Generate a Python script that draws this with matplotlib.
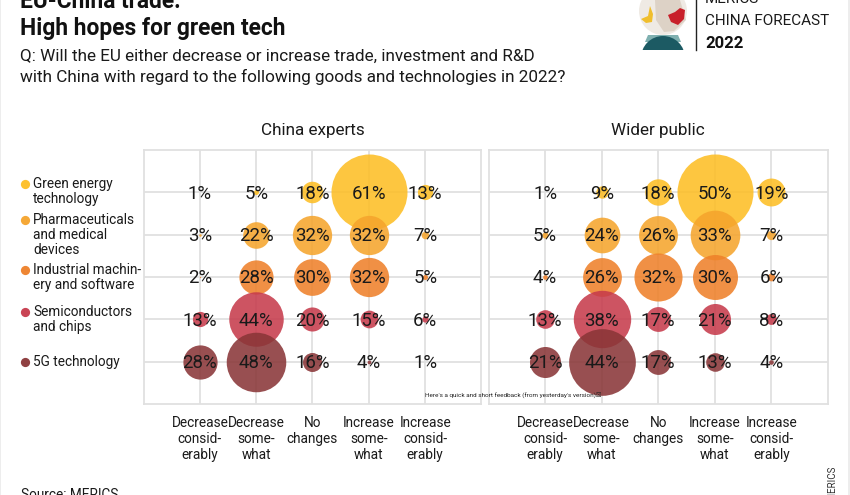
import matplotlib

matplotlib.use("Agg")
import matplotlib.pyplot as plt
from matplotlib.patches import Circle, Polygon, Rectangle, Wedge

W, H = 850, 495
plt.rcParams["font.family"] = ["Roboto", "DejaVu Sans"]

answers = [
    "Decrease\nconsid-\nerably",
    "Decrease\nsome-\nwhat",
    "No\nchanges",
    "Increase\nsome-\nwhat",
    "Increase\nconsid-\nerably",
]
goods = [
    "Green energy\ntechnology",
    "Pharmaceuticals\nand medical\ndevices",
    "Industrial machin-\nery and software",
    "Semiconductors\nand chips",
    "5G technology",
]
colors = ["#FDBE24", "#F5A42C", "#EE8029", "#C63A4B", "#893537"]
legend_y = [184, 220, 270, 312, 362]

experts = [
    [1, 5, 18, 61, 13],
    [3, 22, 32, 32, 7],
    [2, 28, 30, 32, 5],
    [13, 44, 20, 15, 6],
    [28, 48, 16, 4, 1],
]
public = [
    [1, 9, 18, 50, 19],
    [5, 24, 26, 33, 7],
    [4, 26, 32, 30, 6],
    [13, 38, 17, 21, 8],
    [21, 44, 17, 13, 4],
]

MAX_R = 38  # pixels, each panel is scaled to its own biggest value


def draw_panel(box, title, values):
    x0, x1, y0, y1 = box
    ax = fig.add_axes([x0 / W, 1 - y1 / H, (x1 - x0) / W, (y1 - y0) / H])
    ax.set_xlim(-1, 5)
    ax.set_ylim(5, -1)
    ax.set_xticks(range(5))
    ax.set_yticks(range(5))
    ax.tick_params(length=0, labelleft=False, labelbottom=False)
    ax.grid(color="#E0E0E0", linewidth=1.3, zorder=0)
    ax.set_axisbelow(True)
    for s in ax.spines.values():
        s.set_color("#E0E0E0")
        s.set_linewidth(1.3)
    vmax = max(max(row) for row in values)
    for r, row in enumerate(values):
        for c, v in enumerate(row):
            radius = MAX_R * (v - 1) / (vmax - 1)
            size = (2 * radius * 72 / 100) ** 2
            ax.scatter(c, r, s=size, color=colors[r], alpha=0.87, linewidths=0, zorder=2)
            ax.text(c, r + 0.03, f"{v}%", ha="center", va="center", fontsize=13.4,
                    color="#1A1A1A", zorder=3)
    for c, lab in enumerate(answers):
        ax.annotate(lab, (c, 5), xytext=(0, -8.5), textcoords="offset points",
                    ha="center", va="top", fontsize=9.8, linespacing=1.2,
                    color="#1A1A1A", annotation_clip=False)
    fig.text((x0 + x1) / 2 / W, 1 - 131 / H, title, ha="center", va="center",
             fontsize=12.3, color="#1A1A1A")
    return ax


fig = plt.figure(figsize=(W / 100, H / 100), dpi=100)
draw_panel((143.5, 481.5, 150, 404), "China experts", experts)
draw_panel((488.5, 828, 150, 404), "Wider public", public)

# overlay in pixel coordinates for header, legend and logo
over = fig.add_axes([0, 0, 1, 1], zorder=5)
over.set_xlim(0, W)
over.set_ylim(H, 0)
over.axis("off")
over.patch.set_alpha(0)

over.add_patch(Rectangle((0, 0), 1.2, H, color="#EDEDED", lw=0))
over.add_patch(Rectangle((848.5, 0), 1.5, H, color="#EDEDED", lw=0))

over.text(20, 2, "EU-China trade:", fontsize=16.4, fontweight="bold", va="center", color="#111111")
over.text(20, 28, "High hopes for green tech", fontsize=16.4, fontweight="bold", va="center", color="#111111")
over.text(20, 56, "Q: Will the EU either decrease or increase trade, investment and R&D",
          fontsize=12.3, va="center", color="#1A1A1A")
over.text(20, 77, "with China with regard to the following goods and technologies in 2022?",
          fontsize=12.3, va="center", color="#1A1A1A")

for name, col, y in zip(goods, colors, legend_y):
    over.scatter(25.5, y - 0.5, s=44, color=col, alpha=0.95, linewidths=0)
    for i, line in enumerate(name.split("\n")):
        over.text(33, y + 15 * i, line, fontsize=9.8, va="center", color="#1A1A1A")

over.text(425, 396, "Here's a quick and short feedback (from yesterday's version)\u2612",
          fontsize=4.6, va="center", color="#222222")
over.text(21, 495, "Source: MERICS", fontsize=9.8, va="center", color="#1A1A1A")
over.text(833, 508, "\u00a9MERICS", fontsize=7, rotation=90, ha="center", va="bottom", color="#333333")

# crystal ball logo
over.add_patch(Circle((663, 11), 24, color="#EFEAE4", lw=0))
over.add_patch(Polygon([(655, 0), (680, 0), (686, 20), (674, 31), (664, 32), (656, 20)],
                       color="#DDD2C6", lw=0))
over.add_patch(Polygon([(668, 15), (675, 12), (680, 8), (685, 10), (684, 19), (678, 25), (671, 22)],
                       color="#C8202A", lw=0))
over.add_patch(Polygon([(641, 19), (648, 16), (650, 6), (653, 14), (652, 22), (646, 23)],
                       color="#F0BE2C", lw=0))
over.add_patch(Polygon([(648, 35), (678, 35), (681, 42), (645, 42)], color="#7FB0B0", lw=0))
over.add_patch(Wedge((663, 58), 22, 180, 360, color="#1C5A63", lw=0))
over.add_patch(Rectangle((636, 50), 54, 10, color="white", lw=0))
over.plot([696, 696], [0, 50], color="#222222", lw=1)

over.text(705, -1, "MERICS", fontsize=11, va="center", color="#1A1A1A")
over.text(705, 21, "CHINA FORECAST", fontsize=11, va="center", color="#1A1A1A")
over.text(705, 44, "2022", fontsize=12, fontweight="bold", va="center", color="#111111")

fig.savefig("out.png", dpi=100)
